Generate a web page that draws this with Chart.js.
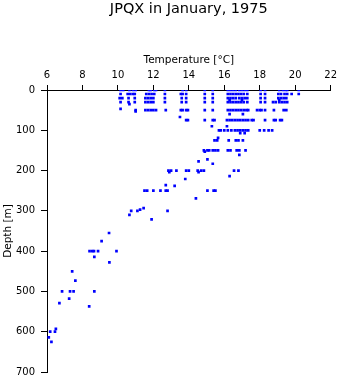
<!DOCTYPE html>
<html>
<head>
<meta charset="utf-8">
<script src="https://cdn.jsdelivr.net/npm/chart.js@4/dist/chart.umd.min.js"></script>
<style>
  html, body { margin: 0; padding: 0; background: #fff; }
  #wrap { width: 341px; height: 384px; }
</style>
</head>
<body>
<div id="wrap"><canvas id="grafica"></canvas></div>
<script>
// depth levels [m] and the temperatures [°C] observed at each one
const depthLevels = [0, 10, 20, 25, 30, 35, 47, 50, 53, 60, 67, 75, 90, 100, 107, 119, 125,
    150, 153, 161, 172, 177, 183, 200, 204, 214, 221, 236, 238, 250, 269, 293, 297, 300,
    310, 321, 355, 375, 400, 414, 428, 450, 473, 500, 518, 529, 537, 593, 600, 614, 625];

const tempsAtLevel = [
    [10.15, 10.3, 10.65, 10.85, 11.0, 11.75, 11.85, 12.05, 12.15, 12.65, 13.65, 13.85, 14.9, 15.35, 16.2, 16.35, 16.5, 16.65, 16.85, 17.0, 17.15, 17.3, 18.05, 18.3, 19.1, 19.3, 19.45, 19.55, 20.2],
    [10.15, 10.55, 10.7, 10.85, 10.95, 11.6, 11.75, 11.9, 12.05, 12.65, 13.55, 13.65, 13.85, 14.9, 15.35, 16.2, 16.35, 16.5, 16.65, 16.8, 16.95, 17.1, 17.3, 18.05, 18.3, 19.05, 19.2, 19.4, 19.55, 19.8, 20.2],
    [10.1, 10.25, 10.6, 10.95, 11.55, 11.7, 11.85, 12.0, 12.65, 13.6, 13.85, 14.9, 15.35, 16.2, 16.35, 16.5, 16.65, 16.85, 17.0, 17.15, 17.3, 18.05, 18.3, 19.05, 19.2, 19.35, 19.5],
    [16.3, 17.0, 19.1],
    [10.15, 10.6, 10.95, 11.55, 11.7, 11.85, 12.0, 12.65, 13.6, 13.85, 14.9, 15.35, 16.2, 16.35, 16.5, 16.65, 16.8, 16.95, 17.1, 17.3, 18.05, 18.3, 18.75, 18.9, 19.1, 19.25, 19.4, 19.55],
    [10.65],
    [10.15],
    [11.0, 11.55, 11.7, 11.85, 12.0, 12.15, 12.7, 13.55, 13.65, 13.85, 13.95, 14.9, 15.35, 16.2, 16.35, 16.5, 16.65, 16.8, 16.95, 17.1, 17.25, 17.35, 17.85, 18.0, 18.1, 18.3, 18.8, 19.35, 19.5],
    [11.0],
    [16.3, 17.05],
    [13.5],
    [13.85, 13.95, 14.9, 15.35, 15.45, 16.15, 16.3, 16.45, 16.6, 16.75, 16.9, 17.05, 17.2, 17.35, 17.55, 17.65, 18.3, 18.8, 18.9, 19.15, 19.25],
    [15.3, 16.15],
    [15.7, 15.8, 16.0, 16.2, 16.4, 16.6, 16.75, 16.9, 17.05, 17.2, 17.35, 18.0, 18.25, 18.5, 18.7],
    [16.9, 17.15],
    [15.65],
    [15.45, 15.6, 16.25, 16.65, 16.8, 17.05],
    [14.85, 15.05, 15.15, 15.35, 15.5, 15.65, 16.2, 16.35, 16.7, 16.85, 17.2],
    [14.9],
    [16.85],
    [15.05],
    [14.55],
    [15.35],
    [12.85, 13.0, 13.3, 13.85, 14.0, 14.5, 14.7, 14.85, 16.55, 16.8],
    [12.9, 14.55],
    [16.3],
    [13.8],
    [12.7],
    [13.2],
    [11.5, 11.65, 12.0, 12.4, 12.7, 12.8, 15.05, 15.4, 15.5],
    [14.4],
    [11.45],
    [11.25],
    [10.75, 11.1, 12.8],
    [10.65],
    [11.9],
    [9.5],
    [9.08],
    [8.4, 8.55, 8.65, 8.88, 9.92],
    [8.67],
    [9.52],
    [7.42],
    [7.6],
    [6.85, 7.3, 7.5, 8.67],
    [7.25],
    [6.7],
    [8.38],
    [6.5],
    [6.18, 6.45],
    [6.1],
    [6.25]
];

const tempTicks = [6, 8, 10, 12, 14, 16, 18, 20, 22];
const depthTicks = [0, 100, 200, 300, 400, 500, 600, 700];

let puntos = [];
depthLevels.forEach((d, i) => {
    tempsAtLevel[i].forEach(t => puntos.push({ x: t, y: d }));
});

Chart.defaults.color = "#000";
Chart.defaults.font.family = "'DejaVu Sans', sans-serif";

const titleFont = { size: 14.5, weight: "normal" };
const titlePad = { top: 1, bottom: 0 };
const titleBox = titleFont.size * 1.2 + titlePad.top + titlePad.bottom;

new Chart(document.getElementById("grafica"), {
    type: "scatter",
    data: {
        datasets: [{
            label: "Depth",
            data: puntos,
            pointStyle: "rect",
            pointRadius: 1.9,
            pointBorderWidth: 0,
            backgroundColor: "#0000ff",
            borderColor: "#0000ff"
        }]
    },
    options: {
        responsive: true,
        maintainAspectRatio: false,
        animation: false,
        events: [],
        layout: { padding: { left: 0, right: 9, top: 0, bottom: 9 } },
        plugins: {
            legend: { display: false },
            tooltip: { enabled: false },
            title: {
                display: true,
                fullSize: false,   // centre over the plot, not the whole canvas
                text: "JPQX in January, 1975",
                font: titleFont,
                padding: titlePad,
                color: "#000"
            }
        },
        scales: {
            x: {
                type: "linear",
                position: "top",
                min: 6,
                max: 22,
                afterBuildTicks: s => { s.ticks = tempTicks.map(v => ({ value: v })); },
                afterFit: s => { s.height = 90 - titleBox; },
                grid: { drawOnChartArea: false, tickLength: 5, color: "#000", tickColor: "#000" },
                border: { color: "#000" },
                ticks: { font: { size: 10 }, padding: 4, maxRotation: 0 },
                title: {
                    display: true,
                    text: "Temperature [°C]",
                    font: { size: 10.5 },
                    padding: { top: 35.5, bottom: 0 }
                }
            },
            y: {
                type: "linear",
                position: "left",
                reverse: true,
                min: 0,
                max: 700,
                afterBuildTicks: s => { s.ticks = depthTicks.map(v => ({ value: v })); },
                afterFit: s => { s.width = 47; },
                grid: { drawOnChartArea: false, tickLength: 6, color: "#000", tickColor: "#000" },
                border: { color: "#000" },
                ticks: { font: { size: 10 }, padding: 6 },
                title: {
                    display: true,
                    text: "Depth [m]",
                    font: { size: 10.5 },
                    padding: { top: 2, bottom: 0 }
                }
            }
        }
    }
});
</script>
</body>
</html>
